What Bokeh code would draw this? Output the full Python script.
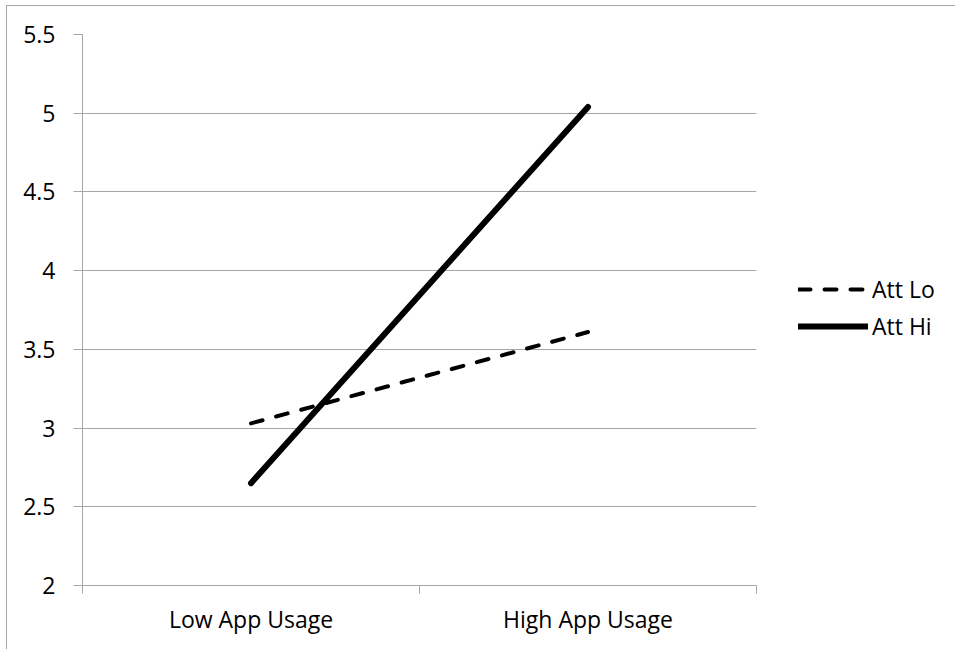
from bokeh.plotting import figure
from bokeh.models import (Range1d, FixedTicker, Legend, LegendItem, ColumnDataSource, Row)
from bokeh.embed import file_html
from bokeh.resources import INLINE

categories = ["Low App Usage", "High App Usage"]
att_lo = [3.03, 3.61]
att_hi = [2.65, 5.04]
y_ticks = [2, 2.5, 3, 3.5, 4, 4.5, 5, 5.5]
series_names = ["Att Lo", "Att Hi"]

xpos = [i + 0.5 for i in range(len(categories))]
FONT = "Open Sans"
FS = "23px"
GRID = "#a6a6a6"
LO_STYLE = dict(line_color="black", line_width=4, line_dash="12 14", line_cap="round")
HI_STYLE = dict(line_color="black", line_width=6, line_cap="round")

p = figure(width=759, height=643, output_backend="svg", toolbar_location=None,
           x_range=Range1d(0, len(categories)), y_range=Range1d(2, 5.5),
           min_border_left=75, min_border_top=28, min_border_bottom=64,
           min_border_right=10)
p.outline_line_color = None
p.background_fill_color = "white"
p.border_fill_color = "white"

# y axis
p.yaxis.ticker = FixedTicker(ticks=y_ticks)
p.yaxis.major_label_overrides = {2.0: "2", 3.0: "3", 4.0: "4", 5.0: "5"}
p.yaxis.axis_line_color = GRID
p.yaxis.major_tick_line_color = GRID
p.yaxis.major_tick_out = 9
p.yaxis.major_tick_in = 0
p.yaxis.minor_tick_line_color = None
p.yaxis.major_label_standoff = 18
p.yaxis.major_label_text_font = FONT
p.yaxis.major_label_text_font_size = FS
p.yaxis.major_label_text_color = "black"

# x axis: boundary ticks as minor ticks, labels at category centres
p.xaxis.ticker = FixedTicker(ticks=xpos, minor_ticks=list(range(len(categories) + 1)))
p.xaxis.major_label_overrides = {x: c for x, c in zip(xpos, categories)}
p.xaxis.major_tick_line_color = None
p.xaxis.minor_tick_line_color = GRID
p.xaxis.minor_tick_out = 8
p.xaxis.minor_tick_in = 0
p.xaxis.axis_line_color = GRID
p.xaxis.major_label_standoff = 9
p.xaxis.major_label_text_font = FONT
p.xaxis.major_label_text_font_size = FS
p.xaxis.major_label_text_color = "black"

p.xgrid.grid_line_color = None
p.ygrid.grid_line_color = GRID
p.ygrid.grid_line_width = 1

src = ColumnDataSource(dict(x=xpos, lo=att_lo, hi=att_hi))
p.line("x", "lo", source=src, **LO_STYLE)
p.line("x", "hi", source=src, **HI_STYLE)

# legend panel (separate figure, same series and line styles; data kept out of view)
pl = figure(width=189, height=643, output_backend="svg", toolbar_location=None,
            x_axis_type=None, y_axis_type=None, x_range=Range1d(100, 101),
            y_range=Range1d(100, 101), min_border=0)
pl.outline_line_color = None
pl.grid.grid_line_color = None
pl.border_fill_color = "white"
pl.background_fill_color = "white"
l_lo = pl.line("x", "lo", source=src, **LO_STYLE)
l_hi = pl.line("x", "hi", source=src, **HI_STYLE)
legend = Legend(items=[LegendItem(label=series_names[0], renderers=[l_lo]),
                       LegendItem(label=series_names[1], renderers=[l_hi])],
                location=(32, 243), margin=0, padding=0, spacing=5,
                glyph_width=70, glyph_height=20, label_standoff=4,
                label_text_font=FONT, label_text_font_size=FS,
                label_text_color="black", border_line_color=None,
                background_fill_alpha=0)
pl.add_layout(legend, "center")

root = Row(children=[p, pl], spacing=0)
root.margin = (5, 0, 0, 6)
root.styles = {"border-left": "1px solid #a6a6a6", "border-top": "1px solid #a6a6a6"}

open("out.html", "w").write(file_html(root, INLINE))
